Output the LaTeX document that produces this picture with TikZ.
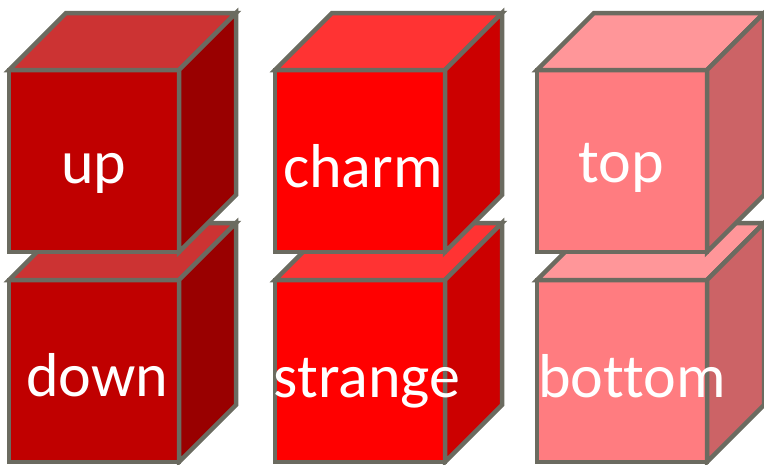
\documentclass[tikz,border=0pt]{standalone}
\usepackage{fontspec}
\setmainfont{Carlito}[Ligatures={NoCommon,NoRare,NoContextual}]
\definecolor{edgegray}{RGB}{107,107,96}
\definecolor{darkF}{RGB}{192,0,0}
\definecolor{darkT}{RGB}{204,51,51}
\definecolor{darkS}{RGB}{153,0,0}
\definecolor{redF}{RGB}{255,0,0}
\definecolor{redT}{RGB}{255,51,51}
\definecolor{redS}{RGB}{204,0,0}
\definecolor{pinkF}{RGB}{255,124,128}
\definecolor{pinkT}{RGB}{255,150,153}
\definecolor{pinkS}{RGB}{204,99,102}
\tikzset{
  face/.style={draw=edgegray, line width=4.5pt, line join=miter},
  label/.style={text=white, anchor=base, inner sep=0pt, font=\fontsize{62}{74}\selectfont}
}
% #1 x, #2 y (front top-left), #3 front, #4 top, #5 side
\newcommand\drawcube[5]{%
  \path[face, fill=#3] (#1,#2) rectangle ++(170,182);
  \path[face, fill=#4] (#1,#2) -- ++(57,-57) -- ++(170,0) -- ++(-57,57) -- cycle;
  \path[face, fill=#5] (#1+170,#2) -- ++(57,-57) -- ++(0,182) -- ++(-57,57) -- cycle;
}
\begin{document}
\begin{tikzpicture}[x=1pt,y=-1pt]
  \useasboundingbox (0,0) rectangle (764,464);
  % lower row first
  \drawcube{9}{280}{darkF}{darkT}{darkS}
  \drawcube{275}{280}{redF}{redT}{redS}
  \drawcube{537}{280}{pinkF}{pinkT}{pinkS}
  % upper row
  \drawcube{9}{70}{darkF}{darkT}{darkS}
  \drawcube{275}{70}{redF}{redT}{redS}
  \drawcube{537}{70}{pinkF}{pinkT}{pinkS}
  % labels
  \node[label] (up) at (94,183) {up};
  \node[label] (down) at (97,396) {down};
  \node[label] (charm) at (363,187) {charm};
  \node[label] (strange) at (367,397) {strange};
  \node[label] (top) at (621,182) {top};
  \node[label] (bottom) at (632,397) {bottom};
\end{tikzpicture}
\end{document}
